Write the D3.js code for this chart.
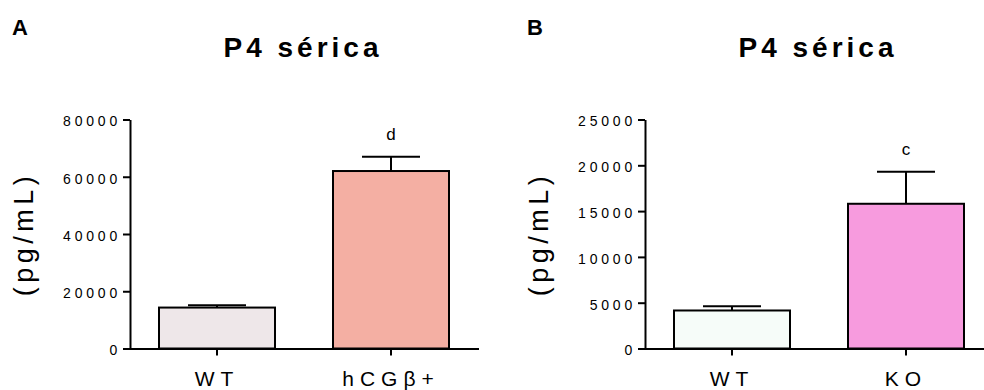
<!DOCTYPE html>
<html>
<head>
<meta charset="utf-8">
<script src="https://cdn.jsdelivr.net/npm/d3@7"></script>
<style>
  body { margin: 0; background: #fff; }
  svg text { font-family: "Liberation Sans", Arial, sans-serif; fill: #000; }
</style>
</head>
<body>
<div id="chart"></div>
<script>
// panel A
const categoriesA = ['WT', 'hCGβ+'];
const meansA = [14300, 62000];
const errorsA = [800, 5000];
const marksA = ['', 'd'];
const ticksA = [0, 20000, 40000, 60000, 80000];
const colorsA = ['#eee7e9', '#f4afa3'];

// panel B
const categoriesB = ['WT', 'KO'];
const meansB = [4150, 15800];
const errorsB = [450, 3500];
const marksB = ['', 'c'];
const ticksB = [0, 5000, 10000, 15000, 20000, 25000];
const colorsB = ['#f6fcf9', '#f79bde'];

const svg = d3.select('#chart').append('svg')
    .attr('width', 984)
    .attr('height', 390);

function drawPanel(opts) {
    const g = svg.append('g');
    const data = opts.categories.map((c, i) => ({
        name: c, value: opts.means[i], err: opts.errors[i], mark: opts.marks[i], color: opts.colors[i]
    }));

    const xScale = d3.scaleBand()
        .domain(opts.categories)
        .range([opts.left, opts.left + 348])
        .paddingInner(1 / 3)
        .paddingOuter(1 / 6);

    const yScale = d3.scaleLinear()
        .domain([0, d3.max(opts.ticks)])
        .range([348.5, 119.5]);

    // bars
    g.selectAll('rect.bar')
        .data(data)
        .enter()
        .append('rect')
        .attr('class', 'bar')
        .attr('x', d => xScale(d.name))
        .attr('y', d => yScale(d.value))
        .attr('width', xScale.bandwidth())
        .attr('height', d => yScale(0) - yScale(d.value))
        .style('fill', d => d.color)
        .style('stroke', '#000')
        .style('stroke-width', 2);

    // error bars (upper only)
    const cx = d => xScale(d.name) + xScale.bandwidth() / 2;
    const capW = xScale.bandwidth() / 2;
    g.selectAll('line.err')
        .data(data)
        .enter()
        .append('line')
        .attr('x1', cx).attr('x2', cx)
        .attr('y1', d => yScale(d.value))
        .attr('y2', d => yScale(d.value + d.err))
        .style('stroke', '#000').style('stroke-width', 2);
    g.selectAll('line.cap')
        .data(data)
        .enter()
        .append('line')
        .attr('x1', d => cx(d) - capW / 2).attr('x2', d => cx(d) + capW / 2)
        .attr('y1', d => yScale(d.value + d.err))
        .attr('y2', d => yScale(d.value + d.err))
        .style('stroke', '#000').style('stroke-width', 2);

    // significance letters
    g.selectAll('text.mark')
        .data(data)
        .enter()
        .append('text')
        .attr('x', cx)
        .attr('y', d => yScale(d.value + d.err) - 17)
        .attr('text-anchor', 'middle')
        .style('font-size', '17px')
        .text(d => d.mark);

    // y axis
    const yAxis = g.append('g')
        .attr('transform', `translate(${opts.left},0)`)
        .call(d3.axisLeft(yScale).tickValues(opts.ticks).tickSize(7).tickSizeOuter(0).tickFormat(d3.format('d')));
    yAxis.select('.domain').style('stroke-width', 2);
    yAxis.selectAll('.tick line').style('stroke-width', 2);
    yAxis.selectAll('.tick text')
        .attr('x', -9)
        .attr('dy', '0.45em')
        .style('font-size', '14px')
        .style('letter-spacing', '3.8px')
        .style('font-family', '"Liberation Sans", Arial, sans-serif');

    // x axis
    const xAxis = g.append('g')
        .attr('transform', `translate(0,${yScale(0)})`)
        .call(d3.axisBottom(xScale).tickSize(7).tickSizeOuter(0));
    xAxis.select('.domain').attr('d', `M${opts.left - 1},0.5H${opts.left + 349}`).style('stroke-width', 2);
    xAxis.selectAll('.tick line').style('stroke-width', 2);
    xAxis.selectAll('.tick text')
        .attr('y', 0)
        .attr('dy', 0)
        .attr('transform', 'translate(0,37)')
        .style('font-size', '21px')
        .style('letter-spacing', '6px')
        .style('font-family', '"Liberation Sans", Arial, sans-serif');

    // y label
    g.append('text')
        .attr('transform', `translate(${opts.left - 97},234) rotate(-90)`)
        .attr('text-anchor', 'middle')
        .style('font-size', '27px')
        .style('letter-spacing', '4.5px')
        .text('(pg/mL)');

    // title
    g.append('text')
        .attr('x', opts.titleX)
        .attr('y', 57)
        .attr('text-anchor', 'middle')
        .style('font-size', '28px')
        .style('font-weight', 'bold')
        .style('letter-spacing', '4px')
        .text('P4 sérica');

    // panel letter
    g.append('text')
        .attr('x', opts.letterX)
        .attr('y', 35)
        .style('font-size', '22px')
        .style('font-weight', 'bold')
        .text(opts.letter);
}

drawPanel({
    categories: categoriesA, means: meansA, errors: errorsA, marks: marksA,
    ticks: ticksA, colors: colorsA, left: 130, titleX: 303, letterX: 12, letter: 'A'
});
drawPanel({
    categories: categoriesB, means: meansB, errors: errorsB, marks: marksB,
    ticks: ticksB, colors: colorsB, left: 645, titleX: 818, letterX: 527, letter: 'B'
});
</script>
</body>
</html>
